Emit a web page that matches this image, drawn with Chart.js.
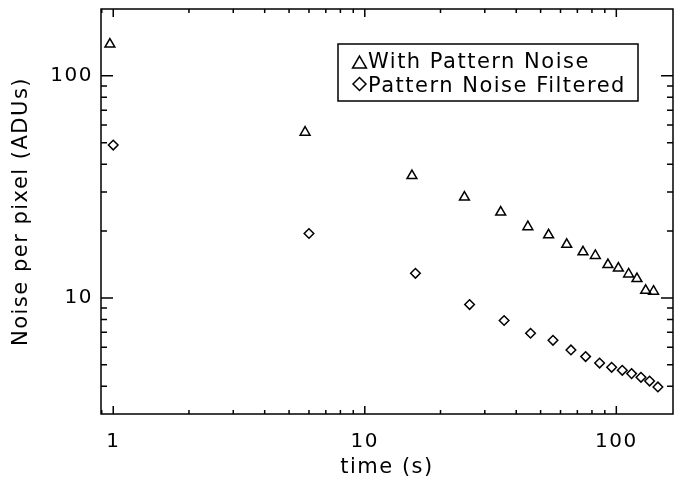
<!DOCTYPE html>
<html>
<head>
<meta charset="utf-8">
<script src="https://cdn.jsdelivr.net/npm/chart.js@4.4.0/dist/chart.umd.min.js"></script>
<style>
  html, body { margin: 0; padding: 0; background: #fff; overflow: hidden; }
  #wrap { width: 675px; height: 483px; }
</style>
</head>
<body>
<div id="wrap"><canvas id="chart"></canvas></div>
<script>
// exposure time (s) and noise per pixel (ADUs)
const timeWith = [0.97, 5.79, 15.4, 24.9, 34.7, 44.5, 53.8, 63.5, 73.7, 82.5, 92.6, 101.9, 111.9, 120.8, 130.8, 140.6];
const noiseWith = [138.8, 55.7, 35.5, 28.4, 24.3, 20.9, 19.2, 17.4, 16.1, 15.5, 14.1, 13.6, 12.8, 12.2, 10.8, 10.7];

const timeFiltered = [1.0, 6.0, 15.9, 26.1, 35.8, 45.6, 56.0, 66.0, 75.5, 85.8, 95.8, 105.6, 115, 125.3, 135.6, 146.3];
const noiseFiltered = [48.8, 19.5, 12.9, 9.33, 7.91, 6.93, 6.44, 5.83, 5.44, 5.09, 4.87, 4.72, 4.56, 4.39, 4.22, 3.97];

const xTickLabels = [1, 10, 100];
const yTickLabels = [10, 100];

const X_RANGE = [0.894, 168];
const Y_RANGE = [3, 200];

const toPoints = (xs, ys) => xs.map((x, i) => ({ x, y: ys[i] }));

// all decade + minor positions inside a range
function logTicks(min, max) {
  const out = [];
  for (let e = Math.floor(Math.log10(min)); e <= Math.ceil(Math.log10(max)); e++) {
    for (let m = 1; m < 10; m++) {
      const v = m * Math.pow(10, e);
      if (v > min && v < max) out.push({ v, major: m === 1 });
    }
  }
  return out;
}

// IDL-style box: frame, inward ticks on all four sides, boxed legend
const idlFrame = {
  id: 'idlFrame',
  beforeDraw(chart) {
    chart.ctx.letterSpacing = '1.5px';
  },
  afterDraw(chart) {
    const { ctx, chartArea: a, scales } = chart;
    const xs = scales.x, ys = scales.y;
    ctx.save();
    ctx.strokeStyle = '#000';
    ctx.lineWidth = 1.5;
    ctx.strokeRect(a.left, a.top, a.right - a.left, a.bottom - a.top);

    ctx.beginPath();
    logTicks(X_RANGE[0], X_RANGE[1]).forEach(t => {
      const px = xs.getPixelForValue(t.v);
      const len = t.major ? 8 : 4;
      ctx.moveTo(px, a.bottom); ctx.lineTo(px, a.bottom - len);
      ctx.moveTo(px, a.top); ctx.lineTo(px, a.top + len);
    });
    logTicks(Y_RANGE[0], Y_RANGE[1]).forEach(t => {
      const py = ys.getPixelForValue(t.v);
      const len = t.major ? 12 : 6;
      ctx.moveTo(a.left, py); ctx.lineTo(a.left + len, py);
      ctx.moveTo(a.right, py); ctx.lineTo(a.right - len, py);
    });
    ctx.stroke();

    // legend
    const lx = a.left + 237, ly = a.top + 35;
    ctx.strokeRect(lx, ly, 300, 57);
    ctx.font = '21px "DejaVu Sans"';
    ctx.textAlign = 'left';
    ctx.textBaseline = 'alphabetic';
    ctx.letterSpacing = '1.5px';
    const rows = [
      { dy: 24, sy: 20, r: 8 },
      { dy: 47.5, sy: 40, r: 6.5 }
    ];
    chart.data.datasets.forEach((ds, i) => {
      const row = rows[i];
      ctx.fillStyle = 'rgba(0,0,0,0)';
      ctx.strokeStyle = '#000';
      ctx.lineWidth = 1.5;
      Chart.helpers.drawPoint(ctx, { pointStyle: ds.pointStyle, radius: row.r, borderWidth: 1.5, rotation: 0 }, lx + 21.5, ly + row.sy);
      ctx.fillStyle = '#000';
      ctx.fillText(ds.label, lx + 30, ly + row.dy);
    });
    ctx.restore();
  }
};

Chart.defaults.color = '#000';
Chart.defaults.font.family = '"DejaVu Sans", sans-serif';

new Chart(document.getElementById('chart'), {
  type: 'scatter',
  data: {
    datasets: [
      {
        label: 'With Pattern Noise',
        data: toPoints(timeWith, noiseWith),
        pointStyle: 'triangle',
        pointRadius: 5.7,
        borderColor: '#000',
        backgroundColor: 'rgba(0,0,0,0)',
        borderWidth: 1.5
      },
      {
        label: 'Pattern Noise Filtered',
        data: toPoints(timeFiltered, noiseFiltered),
        pointStyle: 'rectRot',
        pointRadius: 4.8,
        borderColor: '#000',
        backgroundColor: 'rgba(0,0,0,0)',
        borderWidth: 1.5
      }
    ]
  },
  options: {
    responsive: true,
    maintainAspectRatio: false,
    animation: false,
    layout: { autoPadding: false, padding: { left: 0, top: 9, right: 2, bottom: 0 } },
    plugins: { legend: { display: false }, tooltip: { enabled: false } },
    scales: {
      x: {
        type: 'logarithmic',
        min: X_RANGE[0],
        max: X_RANGE[1],
        grid: { display: false, drawTicks: false },
        border: { display: false },
        afterBuildTicks: s => { s.ticks = xTickLabels.map(v => ({ value: v })); },
        afterFit: s => { s.height = 69; s.paddingLeft = 0; s.paddingRight = 0; },
        ticks: { autoSkip: false, maxRotation: 0, padding: 16, font: { size: 20 }, callback: v => String(v) },
        title: { display: true, text: 'time (s)', font: { size: 21 }, padding: { top: 0, bottom: 3 } }
      },
      y: {
        type: 'logarithmic',
        min: Y_RANGE[0],
        max: Y_RANGE[1],
        grid: { display: false, drawTicks: false },
        border: { display: false },
        afterBuildTicks: s => { s.ticks = yTickLabels.map(v => ({ value: v })); },
        afterFit: s => { s.width = 101; s.paddingTop = 0; s.paddingBottom = 0; },
        ticks: { autoSkip: false, padding: 8, font: { size: 20 }, callback: v => String(v) },
        title: { display: true, text: 'Noise per pixel (ADUs)', font: { size: 21 }, padding: { top: 9, bottom: 0 } }
      }
    }
  },
  plugins: [idlFrame]
});
</script>
</body>
</html>
